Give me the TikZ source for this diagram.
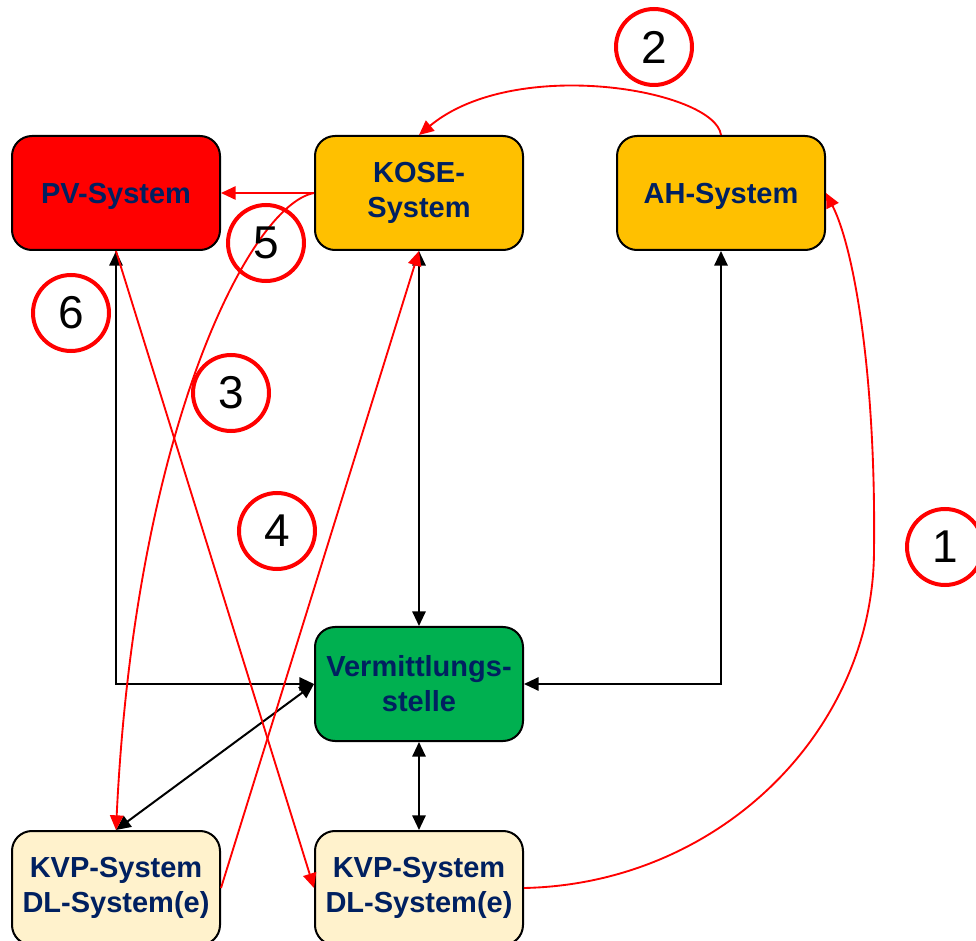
\documentclass[tikz,border=0pt]{standalone}
\usepackage{fontspec}
\setmainfont{Liberation Sans}
\usetikzlibrary{arrows.meta}
\definecolor{navytxt}{HTML}{002060}
\definecolor{pvred}{HTML}{FF0000}
\definecolor{orangebox}{HTML}{FFC000}
\definecolor{greenbox}{HTML}{00B050}
\definecolor{creambox}{HTML}{FFF2CC}
\begin{document}
\begin{tikzpicture}[x=0.75pt,y=-0.75pt,
  box/.style={draw=black, line width=1.5pt, rounded corners=15pt,
    minimum width=156pt, minimum height=85.5pt, align=center, inner sep=0pt,
    text=navytxt, font=\fontsize{21.75pt}{26.25pt}\selectfont\bfseries},
  onebox/.style={box, execute at begin node={\rule{0pt}{20.5pt}}},
  num/.style={circle, draw=pvred, line width=3pt, minimum size=57pt, inner sep=0pt,
    font=\fontsize{34.5pt}{40pt}\selectfont},
  blk/.style={draw=black, line width=1.5pt,
    {Triangle[length=11pt,width=10pt]}-{Triangle[length=11pt,width=10pt]}},
  redarr/.style={draw=pvred, line width=1.4pt, -{Triangle[length=11pt,width=10pt]}}
]
\useasboundingbox (0,0) rectangle (976,941);
\clip (0,0) rectangle (976,941);

% boxes
\node[onebox, fill=pvred] (PV) at (116,193) {PV-System};
\node[box, fill=orangebox] (KOSE) at (419,193) {KOSE-\\System};
\node[onebox, fill=orangebox] (AH) at (721,193) {AH-System};
\node[box, fill=greenbox] (V) at (419,684) {Vermittlungs-\\stelle};
\node[box, fill=creambox] (KL) at (116,888) {KVP-System\\DL-System(e)};
\node[box, fill=creambox] (KR) at (419,888) {KVP-System\\DL-System(e)};

% black connectors
\draw[blk] (PV.south) |- (V.west);
\draw[blk] (KL.north) -- (V.west);
\draw[blk] (KOSE.south) -- (V.north);
\draw[blk] (AH.south) |- (V.east);
\draw[blk] (V.south) -- (KR.north);

% red connectors
\draw[redarr] (KOSE.west) -- (PV.east);
\draw[redarr] (KOSE.west) .. controls (250,205) and (135,430) .. (KL.north);
\draw[redarr] (PV.south) -- (KR.west);
\draw[redarr] (KL.east) -- (KOSE.south);
\draw[redarr] (AH.north) .. controls (715,90) and (515,55) .. (KOSE.north);
\draw[redarr] (KR.east) .. controls (720,884) and (874,730) .. (874,550)
  .. controls (876,380) and (855,250) .. (AH.east);

% numbered circles
\node[num] (n1) at (945,547) {1};
\node[num] (n2) at (654,47) {2};
\node[num] (n3) at (231,393) {3};
\node[num] (n4) at (277,531) {4};
\node[num] (n5) at (266,243) {5};
\node[num] (n6) at (71,313) {6};
\end{tikzpicture}
\end{document}
